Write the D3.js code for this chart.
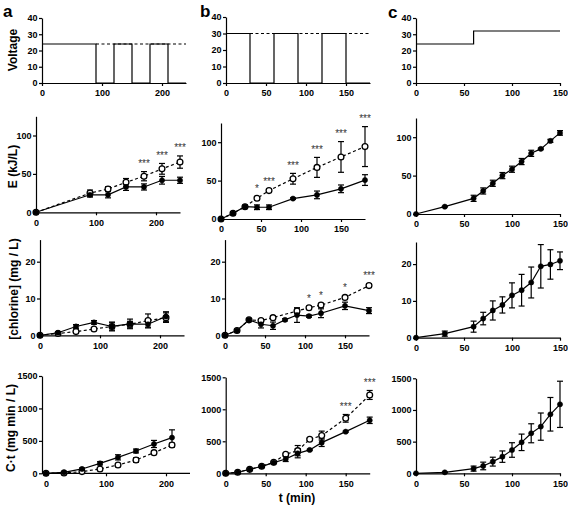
<!DOCTYPE html>
<html><head><meta charset="utf-8">
<script src="https://cdn.jsdelivr.net/npm/d3@7"></script>
<style>body{margin:0;background:#fff} svg{display:block}</style>
</head><body><svg id="c" width="568" height="505"></svg>
<script>
// ---------- DATA ----------
// Voltage programmes (step points: value holds until next time)
const voltA_t = [0, 90, 120, 150, 180, 210, 240];
const voltA_v = [24, 0, 24, 0, 24, 0, 0];
const voltA_set = [24, 90, 240];           // [level, from, to]
const voltB_t = [0, 30, 60, 90, 120, 150, 180];
const voltB_v = [30, 0, 30, 0, 30, 0, 0];
const voltB_set = [30, 30, 180];
const voltC_t = [0, 60, 150];
const voltC_v = [24, 32, 32];

// Panel a
const tA_E = [0, 90, 120, 150, 180, 210, 240];
const eA_closed = [0, 22.8, 22.8, 33, 33, 41.7, 41.7];
const eA_closedErr = [0, 3, 4, 4.5, 4, 5, 4];
const eA_open = [0, 25, 30.3, 39, 47, 56.6, 65.4];
const eA_openErr = [0, 4, 3, 5, 6, 7, 8];
const eA_sig = ["", "", "", "", "***", "***", "***"];

const tA_C = [0, 30, 60, 90, 120, 150, 180, 210];
const clA_closed = [0, 0.7, 2.4, 3.5, 2.4, 3.1, 3.0, 5.1];
const clA_closedErr = [0, 0.3, 0.5, 0.5, 1.0, 1.3, 1.0, 1.3];
const clA_open = [0, 0.5, 1.0, 1.7, 2.4, 3.0, 4.0, 4.8];
const clA_openErr = [0, 0.2, 0.3, 0.3, 1.2, 0.8, 1.8, 1.3];

const ctA_closed = [0, 15, 67, 154, 246, 344, 452, 550];
const ctA_closedErr = [0, 5, 15, 25, 40, 30, 55, 120];
const ctA_open = [0, 5, 26, 67, 128, 205, 318, 436];
const ctA_openErr = [0, 3, 10, 20, 25, 35, 25, 30];

// Panel b
const tB_E = [0, 15, 30, 45, 60, 90, 120, 150, 180];
const eB_closed = [0, 7.4, 16, 15.3, 15.3, 26.6, 31.4, 39.3, 50.7];
const eB_closedErr = [0, 1, 2, 3, 3, 1, 5, 5, 7];
const eB_open = [0, 7.4, 16, 27, 37, 52.4, 67.2, 80.8, 94.3];
const eB_openErr = [0, 1, 1, 2, 2, 7, 13, 20, 26];
const eB_sig = ["", "", "", "*", "***", "***", "***", "***", "***"];

const tB_Cclosed = [0, 15, 30, 45, 60, 75, 90, 105, 120, 150, 180];
const clB_closed = [0, 1.3, 4.2, 3.0, 2.6, 4.2, 5.5, 5.2, 6.0, 8.0, 6.7];
const clB_closedErr = [0, 0.3, 0.3, 1, 1, 0.3, 2, 0.3, 1.2, 1, 0.8];
const tB_Copen = [0, 15, 30, 45, 60, 90, 105, 120, 150, 180];
const clB_open = [0, 1.3, 4.2, 4.0, 4.8, 6.6, 7.5, 8.2, 10.3, 13.5];
const clB_openErr = [0, 0.2, 0.3, 0.4, 0.5, 0.6, 0.4, 0.5, 0.5, 0.5];
const clB_sig = ["", "", "", "", "", "", "*", "*", "*", "***"];

const tB_Ct = [0, 15, 30, 45, 60, 75, 90, 105, 120, 150, 180];
const ctB_closed = [0, 16, 62, 109, 167, 224, 312, 365, 479, 651, 828];
const ctB_closedErr = [0, 5, 8, 10, 10, 40, 70, 10, 60, 10, 50];
const ctB_open = [0, 16, 62, 109, 172, 297, 354, 531, 589, 859, 1224];
const ctB_openErr = [0, 5, 8, 10, 10, 10, 80, 15, 70, 60, 70];
const ctB_sig = ["", "", "", "", "", "", "", "", "", "***", "***"];

// Panel c
const tC = [0, 30, 60, 70, 80, 90, 100, 110, 120, 130, 140, 150];
const eC = [0, 9.6, 20.4, 30, 40, 50, 58.3, 68.3, 79, 84.8, 95.2, 105.6];
const eCErr = [0, 0.5, 4, 4, 4, 4, 4, 4, 4, 1, 2, 3];
const clC = [0, 1.1, 3.0, 5.2, 7.4, 8.9, 11.5, 12.9, 15.0, 19.4, 19.9, 20.9];
const clCErr = [0, 0.7, 1.5, 1.7, 2.6, 2.2, 3.4, 4.3, 4.2, 5.9, 4.0, 2.4];
const ctC = [0, 15, 74, 116, 184, 263, 368, 489, 632, 737, 932, 1089];
const ctCErr = [0, 5, 40, 60, 70, 90, 115, 130, 150, 215, 265, 365];

// Axis ticks
const xTicksA = [0, 100, 200];
const xTicksBC = [0, 50, 100, 150];
const yTicksV = [0, 10, 20, 30, 40];
const yTicksE = [0, 50, 100];
const yTicksCl = [0, 10, 20];
const yTicksCt = [0, 500, 1000, 1500];

const rowLabels = ["Voltage", "E (kJ/L)", "[chlorine] (mg / L)", "C\u00b7t (mg min / L)"];
const panelLetters = ["a", "b", "c"];
const xTitle = "t (min)";

// ---------- DRAW ----------
const F = '"Liberation Sans", Arial, Helvetica, sans-serif';
const svg = d3.select("#c");

const ser = (t, v, err, open, sig) => ({t, v, err, open, sig});

const panels = [
  // row 1 voltage
  {xr:[42,186], yr:[83,18], xd:[0,240], yd:[0,40], xt:xTicksA, yt:yTicksV, volt:{t:voltA_t, v:voltA_v, set:voltA_set}},
  {xr:[226,370], yr:[83,17], xd:[0,180], yd:[0,40], xt:xTicksBC, yt:yTicksV, volt:{t:voltB_t, v:voltB_v, set:voltB_set}},
  {xr:[416,560], yr:[83,18], xd:[0,150], yd:[0,40], xt:xTicksBC, yt:yTicksV, volt:{t:voltC_t, v:voltC_v}},
  // row 2 E
  {xr:[36,180], yr:[212.3,116.3], xd:[0,240], yd:[0,125], xt:xTicksA, yt:yTicksE,
    series:[ser(tA_E,eA_open,eA_openErr,true,eA_sig), ser(tA_E,eA_closed,eA_closedErr,false)]},
  {xr:[221,365], yr:[219,123], xd:[0,180], yd:[0,125], xt:xTicksBC, yt:yTicksE,
    series:[ser(tB_E,eB_open,eB_openErr,true,eB_sig), ser(tB_E,eB_closed,eB_closedErr,false)]},
  {xr:[416,560], yr:[214,118], xd:[0,150], yd:[0,125], xt:xTicksBC, yt:yTicksE,
    series:[ser(tC,eC,eCErr,false)]},
  // row 3 chlorine
  {xr:[40,184], yr:[335.3,239.6], xd:[0,240], yd:[0,26], xt:xTicksA, yt:yTicksCl,
    series:[ser(tA_C,clA_open,clA_openErr,true), ser(tA_C,clA_closed,clA_closedErr,false)]},
  {xr:[225,369], yr:[335.3,239.6], xd:[0,180], yd:[0,26], xt:xTicksBC, yt:yTicksCl,
    series:[ser(tB_Copen,clB_open,clB_openErr,true,clB_sig), ser(tB_Cclosed,clB_closed,clB_closedErr,false)]},
  {xr:[416,560], yr:[337.7,242], xd:[0,150], yd:[0,26], xt:xTicksBC, yt:yTicksCl,
    series:[ser(tC,clC,clCErr,false)]},
  // row 4 C·t
  {xr:[46,190], yr:[473.3,376], xd:[0,240], yd:[0,1500], xt:xTicksA, yt:yTicksCt, yAxisX:42,
    series:[ser(tA_C,ctA_open,ctA_openErr,true), ser(tA_C,ctA_closed,ctA_closedErr,false)]},
  {xr:[225.7,369.7], yr:[473.3,377.3], xd:[0,180], yd:[0,1500], xt:xTicksBC, yt:yTicksCt,
    series:[ser(tB_Ct,ctB_open,ctB_openErr,true,ctB_sig), ser(tB_Ct,ctB_closed,ctB_closedErr,false)]},
  {xr:[416,560], yr:[473.3,378.3], xd:[0,150], yd:[0,1500], xt:xTicksBC, yt:yTicksCt,
    series:[ser(tC,ctC,ctCErr,false)]},
];

function styleAxis(g){
  g.select(".domain").attr("stroke","#000").attr("stroke-width",1.2);
  g.selectAll(".tick line").attr("stroke","#000").attr("stroke-width",1.2);
  g.selectAll(".tick text").attr("fill","#000").style("font-family",F)
    .style("font-size","9px").style("font-weight","bold");
}

panels.forEach(p => {
  const x = d3.scaleLinear().domain(p.xd).range(p.xr);
  const y = d3.scaleLinear().domain(p.yd).range(p.yr);
  const g = svg.append("g");
  const yx = p.yAxisX !== undefined ? p.yAxisX : p.xr[0];

  const gx = g.append("g").attr("transform",`translate(0,${p.yr[0]})`)
    .call(d3.axisBottom(x).tickValues(p.xt).tickSize(3).tickSizeOuter(0).tickPadding(4).tickFormat(d3.format("d")));
  if (yx < p.xr[0]) gx.select(".domain").attr("d", `M${yx},0H${p.xr[1]}`);
  styleAxis(gx);
  const gy = g.append("g").attr("transform",`translate(${yx},0)`)
    .call(d3.axisLeft(y).tickValues(p.yt).tickSize(3).tickSizeOuter(0).tickPadding(1.5).tickFormat(d3.format("d")));
  styleAxis(gy);

  if (p.volt){
    const pts = p.volt.t.map((t,i)=>[t,p.volt.v[i]]);
    g.append("path").attr("d", d3.line().x(d=>x(d[0])).y(d=>y(d[1])).curve(d3.curveStepAfter)(pts))
      .attr("fill","none").attr("stroke","#000").attr("stroke-width",1.2);
    if (p.volt.set){
      const [lv,a,b] = p.volt.set;
      g.append("line").attr("x1",x(a)).attr("x2",x(b)).attr("y1",y(lv)).attr("y2",y(lv))
        .attr("stroke","#000").attr("stroke-width",1.1).attr("stroke-dasharray","3,2.5");
    }
  }

  if (p.series){
    const line = d3.line().x(d=>x(d.t)).y(d=>y(d.v));
    p.series.forEach(s => {
      const pts = s.t.map((t,i)=>({t, v:s.v[i], e:s.err[i], sig:s.sig?s.sig[i]:""}));
      g.append("path").attr("d", line(pts)).attr("fill","none").attr("stroke","#000")
        .attr("stroke-width",1.2).attr("stroke-dasharray", s.open ? "3,2.5" : null);
      s.pts = pts;
    });
    p.series.forEach(s => {
      s.pts.forEach(d => {
        if (d.e > 0){
          const y1 = y(d.v + d.e), y2 = y(d.v - d.e), cx = x(d.t);
          g.append("line").attr("x1",cx).attr("x2",cx).attr("y1",y1).attr("y2",y2).attr("stroke","#000").attr("stroke-width",1.2);
          [y1,y2].forEach(yy => g.append("line").attr("x1",cx-3).attr("x2",cx+3).attr("y1",yy).attr("y2",yy)
            .attr("stroke","#000").attr("stroke-width",1.2));
        }
        if (d.sig){
          g.append("text").attr("x",x(d.t)).attr("y",y(d.v + d.e) - 4.5).attr("text-anchor","middle")
            .style("font-family",F).style("font-size","10px").attr("fill","#333").text(d.sig);
        }
      });
    });
    p.series.forEach(s => {
      g.selectAll(null).data(s.pts).enter().append("circle")
        .attr("cx",d=>x(d.t)).attr("cy",d=>y(d.v))
        .attr("r", s.open ? 2.9 : 2.6)
        .attr("fill", s.open ? "#fff" : "#000").attr("stroke","#000").attr("stroke-width", s.open ? 1.3 : 0.5);
    });
  }
});

// Row labels
const labelPos = [[16.7,50],[17,166.5],[18,289],[15,428]];
rowLabels.forEach((t,i)=>{
  svg.append("text").attr("transform",`translate(${labelPos[i][0]},${labelPos[i][1]}) rotate(-90)`)
    .attr("text-anchor","middle").style("font-family",F).style("font-size","12px").style("font-weight","bold")
    .attr("fill","#000").text(t);
});
// Panel letters
const letterPos = [[3,17],[200,17],[388,18]];
panelLetters.forEach((t,i)=>{
  svg.append("text").attr("x",letterPos[i][0]).attr("y",letterPos[i][1])
    .style("font-family",F).style("font-size","17px").style("font-weight","bold").attr("fill","#000").text(t);
});
// x title
svg.append("text").attr("x",297).attr("y",502).attr("text-anchor","middle")
  .style("font-family",F).style("font-size","12px").style("font-weight","bold").attr("fill","#000").text(xTitle);
</script></body></html>
